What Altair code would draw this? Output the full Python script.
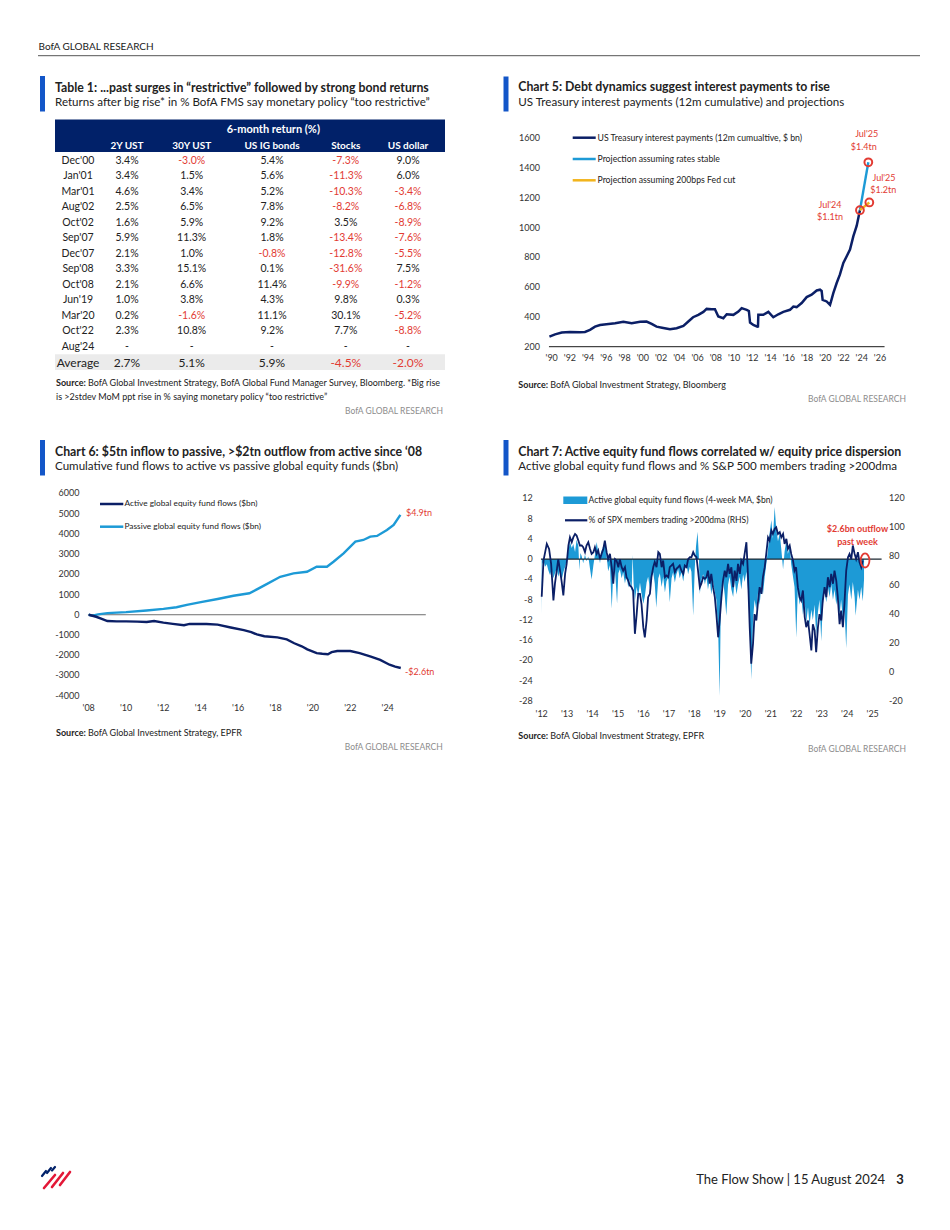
import altair as alt
import pandas as pd

# ---------------- data ----------------
table_dates = ["Dec'00", "Jan'01", "Mar'01", "Aug'02", "Oct'02", "Sep'07", "Dec'07",
               "Sep'08", "Oct'08", "Jun'19", "Mar'20", "Oct'22", "Aug'24", "Average"]
table_cols = ["2Y UST", "30Y UST", "US IG bonds", "Stocks", "US dollar"]
ret_2y = [3.4, 3.4, 4.6, 2.5, 1.6, 5.9, 2.1, 3.3, 2.1, 1.0, 0.2, 2.3, None, 2.7]
ret_30y = [-3.0, 1.5, 3.4, 6.5, 5.9, 11.3, 1.0, 15.1, 6.6, 3.8, -1.6, 10.8, None, 5.1]
ret_ig = [5.4, 5.6, 5.2, 7.8, 9.2, 1.8, -0.8, 0.1, 11.4, 4.3, 11.1, 9.2, None, 5.9]
ret_stocks = [-7.3, -11.3, -10.3, -8.2, 3.5, -13.4, -12.8, -31.6, -9.9, 9.8, 30.1, 7.7, None, -4.5]
ret_usd = [9.0, 6.0, -3.4, -6.8, -8.9, -7.6, -5.5, 7.5, -1.2, 0.3, -5.2, -8.8, None, -2.0]

# Chart 5: UST interest payments ($bn, 12m cumulative), decimal year
c5_hist = [(1989.75, 268), (1990.37, 283), (1991.1, 295), (1992.0, 299), (1993.1, 297), (1993.65, 299),
           (1994.2, 313), (1994.75, 335), (1995.3, 346), (1996.0, 351), (1996.95, 358), (1997.86, 367),
           (1998.77, 358), (1999.7, 367), (2000.4, 369), (2000.96, 353), (2001.5, 335), (2002.24, 326),
           (2002.97, 317), (2003.7, 324), (2004.44, 340), (2004.98, 369), (2005.5, 398), (2006.08, 414),
           (2006.63, 434), (2006.99, 454), (2007.54, 452), (2007.9, 452), (2008.27, 403), (2008.82, 391),
           (2009.19, 418), (2009.92, 414), (2010.47, 436), (2010.83, 459), (2011.38, 448), (2011.62, 440),
           (2011.75, 362), (2012.11, 346), (2012.55, 335), (2012.62, 336), (2012.66, 414), (2013.2, 414),
           (2013.76, 434), (2014.3, 398), (2014.85, 418), (2015.4, 434), (2016.13, 448), (2016.5, 470),
           (2016.86, 466), (2017.41, 493), (2017.96, 533), (2018.5, 549), (2019.06, 578), (2019.42, 583),
           (2019.6, 575), (2019.71, 515), (2020.15, 504), (2020.52, 481), (2020.7, 520), (2020.88, 560),
           (2021.25, 628), (2021.6, 684), (2021.98, 763), (2022.35, 808), (2022.71, 853), (2023.08, 943),
           (2023.44, 1011), (2023.8, 1117)]
c5_stable = [(2023.8, 1117), (2024.72, 1439)]
c5_cut = [(2023.8, 1117), (2024.83, 1169)]
c5_marks = [(2023.8, 1117), (2024.72, 1439), (2024.83, 1169)]
c5_yticks = [200, 400, 600, 800, 1000, 1200, 1400, 1600]
c5_xticks = list(range(1990, 2027, 2))

# Chart 6: cumulative flows ($bn)
c6_active = [(2008.0, 0), (2008.4, -100), (2008.7, -200), (2009.0, -310), (2009.5, -330), (2010.0, -330),
             (2010.6, -340), (2011.1, -360), (2011.5, -310), (2012.0, -390), (2012.5, -450), (2013.1, -520),
             (2013.4, -455), (2013.9, -460), (2014.3, -455), (2014.9, -490), (2015.6, -630), (2016.3, -760),
             (2016.7, -860), (2017.0, -975), (2017.4, -1060), (2018.1, -1120), (2018.6, -1220), (2019.0, -1410),
             (2019.4, -1560), (2019.7, -1710), (2020.2, -1900), (2020.5, -1930), (2020.8, -1950), (2021.0, -1850),
             (2021.3, -1790), (2022.0, -1790), (2022.5, -1900), (2023.1, -2065), (2023.6, -2230), (2024.1, -2470),
             (2024.4, -2560), (2024.7, -2630)]
c6_passive = [(2008.0, 0), (2008.2, -40), (2008.5, 20), (2009.0, 80), (2010.0, 130), (2011.1, 210), (2012.0, 290),
              (2012.7, 370), (2013.25, 490), (2014.0, 620), (2014.9, 780), (2015.75, 940), (2016.6, 1060),
              (2017.0, 1250), (2017.4, 1450), (2018.25, 1876), (2018.96, 2041), (2019.68, 2124), (2020.2, 2372),
              (2020.75, 2372), (2021.1, 2620), (2021.64, 3033), (2022.27, 3612), (2022.7, 3694), (2023.07, 3860),
              (2023.43, 3893), (2023.96, 4190), (2024.32, 4438), (2024.68, 4934)]
c6_yticks = [-4000, -3000, -2000, -1000, 0, 1000, 2000, 3000, 4000, 5000, 6000]
c6_xticks = list(range(2008, 2025, 2))

# Chart 7: active equity fund flows (4wk MA, $bn) and % SPX members > 200dma
c7_flow = [(2012.00, -11.0), (2012.02, -1.0), (2012.07, -0.3), (2012.13, -1.5), (2012.20, -1.0), (2012.26, -2.2),
           (2012.33, -3.2), (2012.39, -2.0), (2012.46, -3.8), (2012.52, -2.8), (2012.59, -1.8), (2012.65, -3.5),
           (2012.72, -2.2), (2012.78, -4.2), (2012.85, -2.6), (2012.92, -1.5), (2012.98, -0.5), (2013.05, 1.8),
           (2013.11, 3.4), (2013.18, 2.2), (2013.24, 3.0), (2013.31, 1.4), (2013.37, 3.8), (2013.44, 2.6),
           (2013.48, -2.2), (2013.52, 1.2), (2013.57, 0.6), (2013.63, -0.8), (2013.70, 0.9), (2013.76, -0.4),
           (2013.83, 0.5), (2013.90, -2.0), (2013.96, -4.0), (2014.03, -1.2), (2014.09, 0.8), (2014.16, 3.4),
           (2014.22, 1.3), (2014.29, -0.8), (2014.35, 1.6), (2014.42, 2.6), (2014.48, 3.3), (2014.55, 0.6),
           (2014.61, -2.4), (2014.68, -1.2), (2014.75, -9.8), (2014.81, -3.0), (2014.88, -2.2), (2014.96, -8.8),
           (2015.01, -2.8), (2015.07, -2.0), (2015.14, -3.8), (2015.20, -2.6), (2015.27, -4.8), (2015.33, -3.2),
           (2015.40, -5.6), (2015.46, -4.0), (2015.53, -6.5), (2015.57, 0.8), (2015.61, -4.8), (2015.66, -8.2),
           (2015.73, -5.5), (2015.79, -7.5), (2015.86, -4.6), (2015.92, -6.8), (2015.99, -8.8), (2016.05, -7.4),
           (2016.12, -4.6), (2016.18, -3.5), (2016.25, -5.8), (2016.31, -3.6), (2016.38, -2.6), (2016.44, -4.8),
           (2016.50, -9.6), (2016.58, -3.8), (2016.64, -2.8), (2016.71, -5.5), (2016.77, -3.5), (2016.84, -6.6),
           (2016.90, -4.4), (2016.97, -3.6), (2017.03, -8.5), (2017.10, -3.8), (2017.16, -2.6), (2017.23, -4.6),
           (2017.29, -3.0), (2017.36, -2.0), (2017.42, -3.8), (2017.49, -2.6), (2017.56, -4.4), (2017.62, -2.0),
           (2017.69, -1.0), (2017.75, -3.0), (2017.82, -1.5), (2017.88, -2.5), (2017.95, -11.2), (2018.01, -2.0),
           (2018.06, 2.5), (2018.12, 5.4), (2018.17, 1.0), (2018.21, -6.9), (2018.27, -4.0), (2018.34, -3.0),
           (2018.41, -5.0), (2018.47, -3.5), (2018.53, -6.0), (2018.60, -4.0), (2018.66, -7.0), (2018.73, -4.5),
           (2018.80, -6.5), (2018.86, -8.0), (2018.93, -14.0), (2018.99, -27.0), (2019.03, -11.0), (2019.06, -6.0),
           (2019.12, -4.0), (2019.19, -7.2), (2019.25, -11.2), (2019.32, -5.0), (2019.38, -3.5), (2019.45, -6.0),
           (2019.52, -7.5), (2019.58, -4.0), (2019.65, -7.0), (2019.71, -5.0), (2019.78, -3.5), (2019.84, -6.0),
           (2019.91, -3.0), (2019.97, -4.5), (2020.04, -2.5), (2020.10, -6.0), (2020.17, -13.0), (2020.23, -23.7),
           (2020.30, -12.0), (2020.36, -8.0), (2020.43, -10.0), (2020.50, -6.5), (2020.56, -9.0), (2020.63, -5.0),
           (2020.69, -7.0), (2020.76, -3.5), (2020.82, -1.0), (2020.89, 2.0), (2020.95, 5.0), (2021.02, 7.7),
           (2021.08, 4.0), (2021.15, 10.3), (2021.21, 6.0), (2021.28, 3.5), (2021.35, 5.0), (2021.41, 2.0),
           (2021.48, -2.0), (2021.54, 1.5), (2021.61, 3.7), (2021.67, 1.0), (2021.74, 2.5), (2021.80, -1.0),
           (2021.87, -3.5), (2021.93, -5.5), (2022.00, -15.5), (2022.06, -6.0), (2022.13, -9.0), (2022.19, -7.0),
           (2022.26, -11.0), (2022.33, -8.5), (2022.39, -12.5), (2022.46, -9.5), (2022.52, -13.0), (2022.59, -10.0),
           (2022.65, -12.0), (2022.72, -9.0), (2022.78, -15.0), (2022.85, -10.5), (2022.91, -8.0), (2022.98, -16.2),
           (2023.04, -9.0), (2023.11, -6.5), (2023.18, -8.5), (2023.24, -5.5), (2023.31, -7.5), (2023.37, -5.0),
           (2023.44, -8.0), (2023.50, -6.0), (2023.57, -9.0), (2023.63, -7.0), (2023.70, -11.0), (2023.76, -8.0),
           (2023.83, -12.0), (2023.89, -9.5), (2023.96, -17.6), (2024.03, -7.0), (2024.09, -5.0), (2024.16, -8.0),
           (2024.22, -4.5), (2024.29, -7.5), (2024.33, -11.2), (2024.42, -6.0), (2024.48, -8.0), (2024.55, -5.5),
           (2024.61, -8.3), (2024.66, -4.0)]
c7_spx = [(2012.00, 52), (2012.07, 77), (2012.20, 88.5), (2012.29, 85), (2012.37, 74.7), (2012.42, 61),
          (2012.46, 49.4), (2012.52, 61), (2012.59, 70), (2012.65, 78), (2012.72, 70), (2012.78, 63), (2012.85, 53),
          (2012.92, 68), (2012.98, 74.7), (2013.05, 87.4), (2013.11, 93), (2013.18, 89.7), (2013.24, 93),
          (2013.31, 95.4), (2013.37, 94.3), (2013.44, 90.8), (2013.50, 87.4), (2013.57, 87.4), (2013.63, 86.2),
          (2013.70, 82.8), (2013.76, 87.4), (2013.83, 89.7), (2013.90, 85), (2013.96, 81.6), (2014.03, 82.8),
          (2014.09, 86.2), (2014.16, 81.6), (2014.22, 84), (2014.29, 78), (2014.35, 81.6), (2014.42, 85),
          (2014.48, 90.8), (2014.55, 82.8), (2014.61, 78), (2014.68, 81.6), (2014.75, 72.4), (2014.81, 61),
          (2014.88, 78), (2014.94, 77), (2015.01, 72.4), (2015.07, 78), (2015.14, 72.4), (2015.20, 70),
          (2015.27, 72.4), (2015.33, 65.5), (2015.40, 63.2), (2015.46, 59.8), (2015.53, 58.6), (2015.59, 56.3),
          (2015.66, 26.4), (2015.73, 40), (2015.79, 54), (2015.86, 54), (2015.92, 47), (2015.99, 31), (2016.05, 24),
          (2016.12, 35.6), (2016.18, 51.7), (2016.25, 54), (2016.31, 65.5), (2016.38, 72.4), (2016.44, 76),
          (2016.51, 72.4), (2016.58, 82.8), (2016.64, 81.6), (2016.71, 72.4), (2016.77, 77), (2016.84, 65.5),
          (2016.90, 66.7), (2016.97, 65.5), (2017.03, 72.4), (2017.10, 73.6), (2017.16, 74.7), (2017.23, 69),
          (2017.29, 71.3), (2017.36, 72.4), (2017.42, 73.6), (2017.49, 70), (2017.56, 67.8), (2017.62, 73.6),
          (2017.69, 72.4), (2017.75, 78), (2017.82, 79.3), (2017.88, 79.3), (2017.95, 82.8), (2018.01, 80.5),
          (2018.08, 79.3), (2018.14, 70), (2018.21, 58.6), (2018.27, 61), (2018.34, 65.5), (2018.41, 64.4),
          (2018.47, 65.5), (2018.53, 70), (2018.60, 61), (2018.66, 67.8), (2018.73, 58.6), (2018.80, 51.7),
          (2018.86, 40), (2018.93, 24), (2018.99, 35.6), (2019.06, 51.7), (2019.12, 63), (2019.19, 70),
          (2019.25, 65.5), (2019.32, 74.7), (2019.38, 67.8), (2019.45, 72.4), (2019.52, 58.6), (2019.58, 70),
          (2019.65, 63), (2019.71, 74.7), (2019.78, 67.8), (2019.84, 77), (2019.91, 74.7), (2019.97, 81.6),
          (2020.04, 89.7), (2020.10, 67.8), (2020.17, 31), (2020.23, 5.7), (2020.30, 19.5), (2020.36, 40),
          (2020.43, 35.6), (2020.50, 49.4), (2020.56, 58.6), (2020.63, 54), (2020.69, 65.5), (2020.76, 72.4),
          (2020.82, 81.6), (2020.89, 93), (2020.95, 90.8), (2021.02, 97.7), (2021.08, 95.4), (2021.15, 98.9),
          (2021.21, 100), (2021.28, 95.4), (2021.35, 96.6), (2021.41, 93), (2021.48, 95.4), (2021.54, 88.5),
          (2021.61, 92), (2021.67, 85), (2021.74, 87.4), (2021.80, 81.6), (2021.87, 77), (2021.93, 70),
          (2021.99, 72.4), (2022.06, 58.6), (2022.13, 51.7), (2022.19, 49.4), (2022.26, 56.3), (2022.33, 38),
          (2022.39, 31), (2022.46, 35.6), (2022.52, 26.4), (2022.59, 15), (2022.65, 33), (2022.72, 28.7),
          (2022.78, 13.8), (2022.85, 31), (2022.91, 40), (2022.98, 35.6), (2023.04, 49.4), (2023.11, 58.6),
          (2023.18, 51.7), (2023.24, 65.5), (2023.31, 58.6), (2023.37, 67.8), (2023.44, 61), (2023.50, 70),
          (2023.57, 63), (2023.63, 51.7), (2023.70, 33), (2023.76, 42.5), (2023.83, 31), (2023.89, 47),
          (2023.96, 70), (2024.03, 79.3), (2024.09, 81.6), (2024.16, 78), (2024.22, 87.4), (2024.29, 81.6),
          (2024.35, 78), (2024.42, 82.8), (2024.48, 75.9), (2024.55, 72.4), (2024.61, 77)]
c7_mark = [(2024.70, 77.1)]
c7_lticks = [-28, -24, -20, -16, -12, -8, -4, 0, 4, 8, 12]
c7_rticks = [-20, 0, 20, 40, 60, 80, 100, 120]
c7_xticks = list(range(2012, 2026))

# ---------------- styling ----------------
FN = "Lato"
NAVY = "#0b1f66"
HDR = "#012169"
LBLUE = "#1d9ad6"
ORANGE = "#f2b41c"
RED = "#e23b33"
ACC = "#1356c8"
DARK = "#222222"
AXC = "#333333"
GREY = "#8c8c8c"
W, H = 934, 1214
YEXPR = "\"'\" + slice(toString(datum.v), 2)"


def cx(v):
    return v - 8


def cy(v):
    return v - 8


ONE = pd.DataFrame({"k": [0]})


def txt(s, x, y, size=9, color=DARK, weight="normal", align="left", font=FN):
    return alt.Chart(ONE).mark_text(text=s, fontSize=size, color=color, fontWeight=weight,
                                    align=align, baseline="middle", font=font).encode(
        x=alt.value(cx(x)), y=alt.value(cy(y)))


def box(x, y, x2, y2, color):
    return alt.Chart(ONE).mark_rect(color=color).encode(
        x=alt.value(cx(x)), x2=alt.value(cx(x2)), y=alt.value(cy(y)), y2=alt.value(cy(y2)))


def hline(x, x2, y, color, w=1.0):
    return alt.Chart(ONE).mark_rule(color=color, strokeWidth=w).encode(
        x=alt.value(cx(x)), x2=alt.value(cx(x2)), y=alt.value(cy(y)))


def seg(x, y, x2, y2, color, w=2.0):
    return alt.Chart(ONE).mark_rule(color=color, strokeWidth=w, strokeCap="round").encode(
        x=alt.value(cx(x)), x2=alt.value(cx(x2)), y=alt.value(cy(y)), y2=alt.value(cy(y2)))


def lin(domain, p0, p1, vertical=False):
    f = cy if vertical else cx
    return alt.Scale(domain=domain, range=[f(p0), f(p1)], nice=False, zero=False)


def ylabels(vals, scale, x, align="right"):
    return alt.Chart(pd.DataFrame({"v": vals})).transform_calculate(
        lab="toString(datum.v)").mark_text(
        align=align, baseline="middle", font=FN, fontSize=9, color=AXC).encode(
        y=alt.Y("v:Q", scale=scale, axis=None), x=alt.value(cx(x)), text="lab:N")


def xlabels(vals, scale, y):
    return alt.Chart(pd.DataFrame({"v": vals})).transform_calculate(lab=YEXPR).mark_text(
        align="center", baseline="middle", font=FN, fontSize=9, color=AXC).encode(
        x=alt.X("v:Q", scale=scale, axis=None), y=alt.value(cy(y)), text="lab:N")


# ---------------- table ----------------
recs = []
for r, lab in enumerate(table_dates):
    recs.append({"ri": r, "ci": 0, "txt": lab, "v": 0})
    for c, arr in enumerate([ret_2y, ret_30y, ret_ig, ret_stocks, ret_usd], start=1):
        val = arr[r]
        recs.append({"ri": r, "ci": c, "txt": "-" if val is None else f"{val:.1f}%",
                     "v": 0 if val is None else val})
tbl = pd.DataFrame(recs)
hdr = pd.DataFrame({"ci": [1, 2, 3, 4, 5], "name": table_cols})

XT = alt.Scale(type="linear", domain=[0, 1, 2, 3, 4, 5],
               range=[cx(v) for v in [78, 127, 191.7, 272, 345.8, 408]], nice=False, zero=False)
YT = lin([0, 13], 160.7, 362.5, vertical=True)
tcolor = alt.condition("datum.v < 0", alt.value(RED), alt.value(DARK))
cells = alt.Chart(tbl).transform_filter("datum.ri < 13").mark_text(
    font=FN, fontSize=10.5, baseline="middle", align="center").encode(
    x=alt.X("ci:Q", scale=XT, axis=None), y=alt.Y("ri:Q", scale=YT, axis=None),
    text="txt:N", color=tcolor)
avg = alt.Chart(tbl).transform_filter("datum.ri == 13").mark_text(
    font=FN, fontSize=12, baseline="middle", align="center").encode(
    x=alt.X("ci:Q", scale=XT, axis=None), y=alt.Y("ri:Q", scale=YT, axis=None),
    text="txt:N", color=tcolor)
hdr_txt = alt.Chart(hdr).mark_text(font=FN, fontSize=10, fontWeight="bold", color="white",
                                   baseline="middle", align="center").encode(
    x=alt.X("ci:Q", scale=XT, axis=None), y=alt.value(cy(146)), text="name:N")
table = alt.layer(cells, avg, hdr_txt)

# ---------------- chart 5 ----------------
X5 = lin([1989.7, 2026.5], 548.96, 884.56)
Y5 = lin([200, 1600], 346.7, 138.3, vertical=True)
df5 = pd.DataFrame(c5_hist, columns=["year", "bn"])
df5s = pd.DataFrame(c5_stable, columns=["year", "bn"])
df5c = pd.DataFrame(c5_cut, columns=["year", "bn"])
df5m = pd.DataFrame(c5_marks, columns=["year", "bn"])


def enc5(ch):
    return ch.encode(x=alt.X("year:Q", scale=X5, axis=None), y=alt.Y("bn:Q", scale=Y5, axis=None))


dom5 = alt.Chart(ONE).mark_rule(color="#1a1a1a", strokeWidth=1).encode(
    x=alt.X(datum=1989.7, scale=X5, axis=None), x2=alt.datum(2026.5),
    y=alt.Y(datum=200, scale=Y5, axis=None))
l5h = enc5(alt.Chart(df5).mark_line(color=NAVY, strokeWidth=2.5))
l5s = enc5(alt.Chart(df5s).mark_line(color=LBLUE, strokeWidth=2.4))
l5c = enc5(alt.Chart(df5c).mark_line(color=ORANGE, strokeWidth=2.4))
p5 = enc5(alt.Chart(df5m).mark_point(shape="circle", filled=False, color=RED, strokeWidth=2,
                                     size=60, opacity=1))
chart5 = alt.layer(dom5, l5h, l5s, l5c, p5,
                   ylabels(c5_yticks, Y5, 540), xlabels(c5_xticks, X5, 358.3))

# ---------------- chart 6 ----------------
X6 = lin([2007.96, 2026.04], 87.95, 425.8)
Y6 = lin([-4000, 6000], 695.7, 493.3, vertical=True)
df6a = pd.DataFrame(c6_active, columns=["year", "bn"])
df6p = pd.DataFrame(c6_passive, columns=["year", "bn"])
z6 = alt.Chart(ONE).mark_rule(color="#6e6e6e", strokeWidth=1).encode(
    x=alt.X(datum=2007.96, scale=X6, axis=None), x2=alt.datum(2026.04),
    y=alt.Y(datum=0, scale=Y6, axis=None))
l6a = alt.Chart(df6a).mark_line(color=NAVY, strokeWidth=2.4).encode(
    x=alt.X("year:Q", scale=X6, axis=None), y=alt.Y("bn:Q", scale=Y6, axis=None))
l6p = alt.Chart(df6p).mark_line(color=LBLUE, strokeWidth=2.4).encode(
    x=alt.X("year:Q", scale=X6, axis=None), y=alt.Y("bn:Q", scale=Y6, axis=None))
chart6 = alt.layer(z6, l6p, l6a, ylabels(c6_yticks, Y6, 79.5), xlabels(c6_xticks, X6, 708.3))

# ---------------- chart 7 ----------------
X7 = lin([2011.97, 2025.35], 540.94, 881.6)
Y7L = lin([-28, 12], 701, 498.3, vertical=True)
Y7R = lin([-20, 120], 701, 498.3, vertical=True)
df7f = pd.DataFrame(c7_flow, columns=["year", "bn"])
df7s = pd.DataFrame(c7_spx, columns=["year", "pct"])
df7m = pd.DataFrame(c7_mark, columns=["year", "pct"])
a7 = alt.Chart(df7f).mark_area(color=LBLUE, opacity=1, strokeWidth=0).encode(
    x=alt.X("year:Q", scale=X7, axis=None), y=alt.Y("bn:Q", scale=Y7L, axis=None), y2=alt.datum(0))
z7 = alt.Chart(ONE).mark_rule(color="#1c2730", strokeWidth=1.2).encode(
    x=alt.X(datum=2011.97, scale=X7, axis=None), x2=alt.datum(2025.35),
    y=alt.Y(datum=0, scale=Y7L, axis=None))
l7 = alt.Chart(df7s).mark_line(color=NAVY, strokeWidth=1.8).encode(
    x=alt.X("year:Q", scale=X7, axis=None), y=alt.Y("pct:Q", scale=Y7R, axis=None))
ELL = "M -0.62 0 A 0.62 1 0 1 0 0.62 0 A 0.62 1 0 1 0 -0.62 0 Z"
e7 = alt.Chart(df7m).mark_point(shape=ELL, filled=False, color=RED, strokeWidth=1.8, size=200,
                                opacity=1).encode(
    x=alt.X("year:Q", scale=X7, axis=None), y=alt.Y("pct:Q", scale=Y7R, axis=None))
left7 = alt.layer(a7, z7, ylabels(c7_lticks, Y7L, 532.7), xlabels(c7_xticks, X7, 713.5))
right7 = alt.layer(l7, e7, ylabels(c7_rticks, Y7R, 889, align="left"))
chart7 = alt.layer(left7, right7).resolve_scale(y="independent")

# ---------------- page decoration ----------------
TS, SS, SRC, BGR = 12.3, 11.6, 9, 8.5
SRCX = 32  # gap after bold "Source:"
deco_bg = [
    txt("BofA GLOBAL RESEARCH", 38.5, 47, size=10, color="#1a1a1a"),
    hline(38, 920, 55.7, "#555555", 1),
    box(55, 119.5, 445, 152, HDR),
    box(55, 354.3, 445, 370, "#ebebeb"),
]
deco = [
    # Table 1
    box(40, 76, 45, 111.5, ACC),
    txt("Table 1: ...past surges in \u201crestrictive\u201d followed by strong bond returns", 55, 88.3,
        size=TS, weight="bold"),
    txt("Returns after big rise* in % BofA FMS say monetary policy \u201ctoo restrictive\u201d", 55, 103.3,
        size=SS),
    txt("6-month return (%)", 273.3, 130, size=11, weight="bold", color="white", align="center"),
    txt("Source:", 56, 383.3, size=SRC, weight="bold"),
    txt("BofA Global Investment Strategy, BofA Global Fund Manager Survey, Bloomberg. *Big rise",
        56 + SRCX, 383.3, size=SRC),
    txt("is >2stdev MoM ppt rise in % saying monetary policy \u201ctoo restrictive\u201d", 56, 396.7, size=SRC),
    txt("BofA GLOBAL RESEARCH", 443, 410.7, size=BGR, color=GREY, align="right"),
    # Chart 5
    box(503.5, 76.5, 508.5, 111.5, ACC),
    txt("Chart 5: Debt dynamics suggest interest payments to rise", 518.3, 87.3, size=TS, weight="bold"),
    txt("US Treasury interest payments (12m cumulative) and projections", 518.3, 103.3, size=SS),
    hline(572.7, 595.7, 137.7, NAVY, 2.5),
    hline(572.7, 595.7, 159, LBLUE, 2.5),
    hline(572.7, 595.7, 180.3, ORANGE, 2.5),
    txt("US Treasury interest payments (12m cumualtive, $ bn)", 597.5, 137.7, size=8.7),
    txt("Projection assuming rates stable", 597.5, 159, size=8.7),
    txt("Projection assuming 200bps Fed cut", 597.5, 180.3, size=8.7),
    txt("Jul'25", 866.7, 134.3, size=9, color=RED, align="center"),
    txt("$1.4tn", 863.8, 146.7, size=9, color=RED, align="center"),
    txt("Jul'25", 884, 178.3, size=9, color=RED, align="center"),
    txt("$1.2tn", 883.3, 189.5, size=9, color=RED, align="center"),
    txt("Jul'24", 830, 205, size=9, color=RED, align="center"),
    txt("$1.1tn", 830, 216.7, size=9, color=RED, align="center"),
    txt("Source:", 518.3, 385, size=SRC, weight="bold"),
    txt("BofA Global Investment Strategy, Bloomberg", 518.3 + SRCX, 385, size=SRC),
    txt("BofA GLOBAL RESEARCH", 906, 399.3, size=BGR, color=GREY, align="right"),
    # Chart 6
    box(40, 440, 45, 475.5, ACC),
    txt("Chart 6: $5tn inflow to passive, >$2tn outflow from active since \u201808", 55, 451.7, size=TS,
        weight="bold"),
    txt("Cumulative fund flows to active vs passive global equity funds ($bn)", 55, 467.3, size=SS),
    hline(100, 123.3, 504, NAVY, 2.5),
    hline(100, 123.3, 526.7, LBLUE, 2.5),
    txt("Active global equity fund flows ($bn)", 124.5, 504, size=8.3),
    txt("Passive global equity fund flows ($bn)", 124.5, 526.7, size=8.3),
    txt("$4.9tn", 406, 513.3, size=9, color=RED),
    txt("-$2.6tn", 405, 671.7, size=9, color=RED),
    txt("Source:", 56, 733.3, size=SRC, weight="bold"),
    txt("BofA Global Investment Strategy, EPFR", 56 + SRCX, 733.3, size=SRC),
    txt("BofA GLOBAL RESEARCH", 442.7, 746.7, size=BGR, color=GREY, align="right"),
    # Chart 7
    box(503.5, 440, 508.5, 475.5, ACC),
    txt("Chart 7: Active equity fund flows correlated w/ equity price dispersion", 518.3, 451.7, size=TS,
        weight="bold"),
    txt("Active global equity fund flows and % S&P 500 members trading >200dma", 518.3, 467.3, size=SS),
    box(563.3, 496.5, 587.3, 504, LBLUE),
    txt("Active global equity fund flows (4-week MA, $bn)", 588.5, 500.3, size=8.5),
    hline(565, 587.3, 520.3, NAVY, 2.2),
    txt("% of SPX members trading >200dma (RHS)", 588.5, 520.3, size=8.5),
    txt("$2.6bn outflow", 857.5, 529, size=9, weight="bold", color=RED, align="center"),
    txt("past week", 857.5, 541.7, size=9, weight="bold", color=RED, align="center"),
    txt("Source:", 518.3, 735.7, size=SRC, weight="bold"),
    txt("BofA Global Investment Strategy, EPFR", 518.3 + SRCX, 735.7, size=SRC),
    txt("BofA GLOBAL RESEARCH", 906, 749.3, size=BGR, color=GREY, align="right"),
    # footer
    seg(42, 1176, 46, 1171, HDR, 2.2),
    seg(47, 1173, 51, 1168, HDR, 2.2),
    seg(52, 1170.5, 55, 1167, HDR, 2.2),
    seg(44, 1188, 55, 1175, "#e31837", 2.6),
    seg(52, 1187, 63, 1173, "#e31837", 2.6),
    seg(60, 1185, 70, 1172, "#e31837", 2.6),
    txt("The Flow Show | 15 August 2024", 885, 1180, size=13, align="right"),
    txt("3", 900, 1180, size=13, weight="bold", align="center"),
]

page = alt.layer(*deco_bg, table, chart5, chart6, chart7, *deco).resolve_scale(
    x="independent", y="independent"
).properties(
    width=W, height=H, padding=0, background="white",
    autosize=alt.AutoSizeParams(type="none"),
).configure_view(strokeWidth=0)

page.save("out.html", embed_options={"renderer": "svg", "actions": False})
